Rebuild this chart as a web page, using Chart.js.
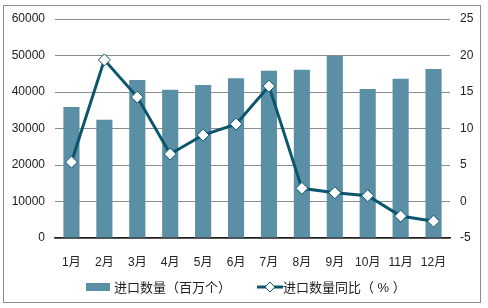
<!DOCTYPE html>
<html>
<head>
<meta charset="utf-8">
<script src="https://cdn.jsdelivr.net/npm/chart.js@4.4.1/dist/chart.umd.min.js"></script>
<style>
  html, body { margin: 0; padding: 0; background: #fff; }
  #wrap { position: relative; width: 488px; height: 308px; }
  #frame { position: absolute; left: 3px; top: 5px; width: 478px; height: 298px; border: 1px solid #8c8c8c; box-sizing: border-box; pointer-events: none; }
  .legend { position: absolute; top: 277px; font: 13px "Liberation Sans", "Noto Sans CJK SC", sans-serif; color: #222; white-space: nowrap; }
  .legend span { display: inline-block; vertical-align: middle; }
</style>
</head>
<body>
<div id="wrap">
  <canvas id="chart" width="488" height="308"></canvas>
  <div id="frame"></div>
  <div class="legend" style="left:86px">
    <span style="width:24px;height:8px;background:#5b8fa6;margin-right:4px"></span><span>进口数量（百万个）</span>
  </div>
  <div class="legend" style="left:257px">
    <svg width="26" height="12" style="vertical-align:middle"><line x1="0" y1="6" x2="26" y2="6" stroke="#0b566e" stroke-width="3"/><polygon points="13,1 18,6 13,11 8,6" fill="#fff" stroke="#0b566e" stroke-width="1"/></svg><span>进口数量同比（ % ）</span>
  </div>
</div>
<script>
  const months = ["1月", "2月", "3月", "4月", "5月", "6月", "7月", "8月", "9月", "10月", "11月", "12月"];
  const importQty = [35900, 32400, 43300, 40600, 41900, 43800, 45800, 46100, 49900, 40800, 43600, 46300];
  const importYoY = [5.4, 19.4, 14.3, 6.5, 9.1, 10.6, 15.8, 1.8, 1.2, 0.8, -2.0, -2.7];

  const barColor = "#5b8fa6";
  const lineColor = "#0b566e";
  const font = { family: '"Liberation Sans", "Noto Sans CJK SC", sans-serif', size: 12 };

  new Chart(document.getElementById("chart"), {
    data: {
      labels: months,
      datasets: [
        {
          type: "line",
          label: "进口数量同比（%）",
          data: importYoY,
          yAxisID: "y2",
          borderColor: lineColor,
          borderWidth: 3,
          tension: 0,
          pointStyle: "rectRot",
          pointRadius: 6,
          pointBackgroundColor: "#fff",
          pointBorderColor: lineColor,
          pointBorderWidth: 1
        },
        {
          type: "bar",
          label: "进口数量（百万个）",
          data: importQty,
          yAxisID: "y",
          backgroundColor: barColor,
          categoryPercentage: 1,
          barPercentage: 0.49
        }
      ]
    },
    options: {
      responsive: false,
      animation: false,
      layout: { padding: { top: 19, left: 0, right: 0, bottom: 0 } },
      plugins: { legend: { display: false }, tooltip: { enabled: false } },
      scales: {
        x: {
          grid: { display: false },
          border: { display: true, color: "#222", width: 1.5 },
          ticks: { color: "#222", font, padding: 9 },
          afterFit: (s) => { s.height = 70; }
        },
        y: {
          position: "left",
          min: 0,
          max: 60000,
          ticks: { stepSize: 10000, color: "#222", font, padding: 10, callback: (v) => String(v) },
          grid: { color: "#8c8c8c", drawTicks: false },
          border: { display: false },
          afterFit: (s) => { s.width = 55; }
        },
        y2: {
          position: "right",
          min: -5,
          max: 25,
          ticks: { stepSize: 5, color: "#222", font, padding: 10, callback: (v) => String(v) },
          grid: { display: false, drawTicks: false },
          border: { display: false },
          afterFit: (s) => { s.width = 38; }
        }
      }
    }
  });
</script>
</body>
</html>
